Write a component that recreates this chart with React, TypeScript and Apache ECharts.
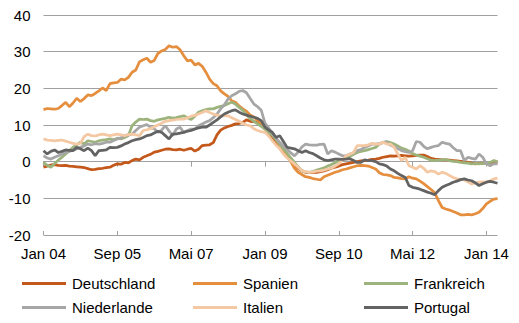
import React, { useEffect, useRef } from "react";
import * as echarts from "echarts";

const monthNames = ["Jan", "Feb", "Mrz", "Apr", "Mai", "Jun", "Jul", "Aug", "Sep", "Okt", "Nov", "Dez"];
const startYear = 2004;
const monthCount = 124;
const categories: string[] = [];
for (let i = 0; i < monthCount; i++) {
  const y = startYear + Math.floor(i / 12);
  categories.push(monthNames[i % 12] + " " + String(y % 100).padStart(2, "0"));
}

const seriesNames = ["Deutschland", "Spanien", "Frankreich", "Niederlande", "Italien", "Portugal"];
const seriesColors = ["#C4581A", "#E58E3E", "#9DB37C", "#A6A6A6", "#F4C8A2", "#636363"];

const deutschland = [
  -1.5, -1.2, -0.9, -0.8, -1.0, -1.1, -1.0, -1.2, -1.3, -1.4, -1.5, -1.6,
  -1.9, -2.2, -2.1, -1.9, -1.8, -1.6, -1.5, -1.0, -0.6, -0.7, -0.2, -0.3,
  0.3, 0.7, 0.5, 1.2, 1.6, 2.0, 2.6, 2.8, 3.1, 3.4, 3.5, 3.3,
  3.2, 3.4, 3.1, 3.4, 3.6, 2.9, 3.4, 4.4, 4.5, 4.6, 5.2, 7.3,
  8.6, 9.2, 9.6, 9.9, 10.3, 10.4, 10.7, 11.4, 11.0, 10.9, 10.7, 10.0,
  9.0, 7.8, 6.5, 5.4, 4.0, 3.0, 1.8, 0.5, -1.1, -1.8, -2.5, -2.9,
  -3.0, -2.9, -2.9, -2.7, -2.5, -2.2, -1.8, -1.5, -1.2, -0.8, -0.6, -0.4,
  -0.2, 0.0, 0.2, 0.3, 0.4, 0.6, 0.7, 0.9, 1.2, 1.4, 1.6, 1.5,
  1.6, 1.7, 1.6, 1.5, 1.6, 1.7, 1.8, 1.8, 1.4, 0.9, 0.7, 0.6,
  0.5, 0.5, 0.4, 0.3, 0.2, 0.1, 0.0, -0.2, -0.4, -0.6, -0.5, -0.5,
  -0.5, -0.4, -0.2, -0.3,
];

const spanien = [
  14.2, 14.5, 14.4, 14.3, 14.5, 15.3, 16.2, 15.0, 16.0, 17.3, 16.4, 17.2,
  18.2, 18.0, 18.6, 19.3, 20.1, 19.4, 21.3, 21.5, 21.6, 22.5, 22.3, 23.0,
  24.4, 25.0, 27.2, 27.8, 28.2, 27.1, 27.6, 29.5, 30.2, 30.6, 31.6, 31.2,
  31.4, 30.5, 28.9, 27.5, 27.7, 26.4, 26.8, 26.0, 24.4, 22.5, 21.3, 20.7,
  19.3, 18.5, 17.8, 16.6, 16.2, 15.2, 14.4, 13.8, 12.7, 12.2, 11.3, 10.5,
  9.6, 8.5, 7.5, 6.0, 4.5, 3.0, 1.5, 0.0, -1.8, -2.9, -3.5, -4.1,
  -4.3, -4.6, -4.8, -5.0, -4.1, -3.7, -3.3, -2.9, -2.6, -2.2, -2.0, -1.7,
  -1.4, -1.1, -1.0, -1.1, -1.2, -1.6, -2.0, -3.0, -3.5, -3.6, -3.8, -4.3,
  -4.4, -4.6, -4.7, -4.1, -4.5, -4.7, -5.3, -6.0, -6.8, -7.6, -8.5, -10.6,
  -12.5, -12.9, -13.2, -13.6, -14.0, -14.5, -14.5, -14.4, -14.5, -14.2, -13.8, -12.8,
  -11.5, -10.8, -10.2, -10.1,
];

const frankreich = [
  -0.2, -1.0, -1.5, -0.5, 0.4, 1.2, 2.1, 3.0, 3.9, 4.6, 5.3, 4.8,
  5.7, 5.5, 5.3, 5.7, 5.9, 6.0, 6.2, 6.0, 6.4, 6.2, 6.6, 7.1,
  9.8, 10.8, 11.6, 11.5, 11.6, 11.2, 11.0, 11.4, 11.6, 11.8, 12.1, 11.9,
  12.0, 12.3, 12.5, 12.0, 11.5, 12.4, 13.5, 13.9, 14.2, 14.4, 14.4, 14.8,
  15.1, 15.3, 15.8, 16.2, 15.7, 14.8, 14.0, 12.8, 11.8, 11.0, 10.3, 9.6,
  8.9, 8.0, 7.2, 6.0, 4.8, 3.5, 2.3, 1.0, -0.2, -1.4, -2.5, -2.8,
  -2.9, -2.7, -2.3, -2.0, -1.7, -1.2, -0.8, -0.3, 0.3, 0.6, 1.0, 1.4,
  2.0, 2.5, 2.8, 3.0, 3.3, 3.6, 3.9, 4.8, 5.2, 5.5, 5.2, 4.8,
  4.3, 3.7, 3.4, 2.9, 2.2, 1.8, 1.5, 1.2, 0.8, 0.4, 0.3, 0.4,
  0.5, 0.6, 0.3, 0.1, 0.0, -0.2, -0.3, -0.4, -0.6, -0.5, -0.6, -0.5,
  -0.5, -0.2, 0.3, 0.0,
];

const niederlande = [
  1.6, 1.0, 0.7, 1.2, 1.6, 2.0, 2.5, 2.8, 3.2, 3.5, 3.9, 4.3,
  4.8, 4.6, 4.9, 4.8, 5.0, 5.3, 5.3, 5.8, 6.2, 6.5, 7.1, 7.3,
  7.5, 8.5, 9.4, 9.8, 10.1, 9.4, 9.0, 8.0, 8.6, 9.8, 8.4, 7.1,
  8.9, 9.4, 8.0, 8.5, 8.9, 8.9, 9.8, 10.3, 10.8, 11.2, 12.0, 13.0,
  14.4, 15.5, 17.1, 18.0, 18.5, 19.2, 19.4, 18.8, 17.2, 15.7, 15.0, 14.0,
  10.5, 9.2, 7.8, 6.4, 5.3, 4.2, 3.3, 2.4, 1.6, 2.6, 4.0, 4.8,
  4.6, 4.5, 4.5, 4.7, 4.8, 2.1, 3.0, 2.6, 2.1, 1.6, 1.6, 2.1,
  2.4, 3.0, 3.3, 3.9, 4.3, 4.8, 4.8, 4.9, 5.3, 5.3, 4.5, 4.1,
  3.6, 3.0, 2.7, 2.5, 3.0, 5.5, 5.3, 4.2, 3.5, 3.9, 4.2, 4.4,
  5.3, 5.0, 4.8, 3.8, 3.0, 3.0, 0.3, 1.2, 0.9, 0.7, 2.1, 1.2,
  -0.6, -1.1, -0.6, -0.6,
];

const italien = [
  6.2, 5.9, 5.8, 5.7, 5.8, 5.9, 5.6, 5.3, 5.0, 4.8, 5.0, 6.8,
  7.5, 7.1, 7.0, 7.3, 7.5, 7.3, 7.1, 7.3, 7.5, 7.3, 7.1, 7.4,
  7.5, 7.3, 7.1, 8.5, 8.7, 9.0, 9.5, 10.0, 10.5, 11.0, 11.2, 11.3,
  11.5, 11.6, 11.6, 12.0, 12.4, 12.6, 13.0, 13.4, 13.9, 13.4, 13.0, 12.7,
  12.5, 12.5, 12.5, 12.0, 11.5, 11.0, 10.5, 10.0, 9.8, 9.0, 8.5, 8.2,
  8.0, 7.0, 5.7, 4.5, 3.5, 2.1, 1.0, 0.2, -0.6, -1.5, -2.5, -2.7,
  -2.9, -2.8, -2.6, -2.5, -2.3, -2.0, -1.8, -1.2, -0.6, 0.5, 1.6, 2.0,
  2.5, 4.4, 4.4, 4.4, 4.6, 5.0, 4.8, 4.8, 5.3, 4.8, 4.8, 3.9,
  2.1, 0.3, 1.2, -1.1, -1.5, -2.0, -1.1, -1.8, -2.9, -2.5, -2.7, -3.4,
  -2.9, -3.2, -3.8, -4.3, -4.7, -4.8, -5.0, -5.5, -6.1, -5.8, -5.6, -5.5,
  -5.6, -5.2, -4.7, -4.5,
];

const portugal = [
  3.0, 2.1, 2.8, 3.2, 2.5, 2.8, 3.2, 3.1, 3.0, 3.9, 3.5, 3.0,
  3.7, 3.0, 1.6, 3.0, 3.1, 3.2, 3.9, 3.8, 3.9, 4.3, 4.8, 5.2,
  5.7, 6.0, 6.2, 6.6, 7.1, 7.3, 7.8, 8.3, 8.0, 7.1, 6.2, 7.5,
  7.6, 7.8, 8.0, 8.3, 8.5, 8.9, 9.2, 9.4, 9.4, 10.0, 10.7, 11.4,
  12.2, 13.0, 13.5, 13.9, 14.1, 13.5, 13.0, 12.7, 12.4, 12.1, 11.8, 11.2,
  9.4, 8.7, 8.0, 6.6, 7.1, 5.5, 3.9, 3.7, 3.5, 3.0, 2.5, 3.0,
  2.5, 2.2, 1.6, 1.0, 0.5, 0.3, 0.5, 0.7, 0.7, 0.6, 0.7, 0.8,
  0.3, -0.2, -0.2, 0.5, 0.3, 0.3, 0.0, -0.6, -0.8, -1.2, -2.0, -2.5,
  -3.2, -3.8, -4.3, -6.5, -7.0, -7.2, -7.5, -7.9, -8.3, -8.6, -9.0, -7.9,
  -7.0, -6.5, -6.1, -5.6, -5.3, -4.9, -4.7, -5.0, -5.2, -5.8, -6.5, -6.0,
  -5.6, -5.4, -5.6, -5.9,
];

const seriesData = [deutschland, spanien, frankreich, niederlande, italien, portugal];

const yMin = -20;
const yMax = 40;
const yStep = 10;

const legendPos = [
  { left: 22, top: 276 },
  { left: 193, top: 276 },
  { left: 364, top: 276 },
  { left: 22, top: 300 },
  { left: 193, top: 300 },
  { left: 364, top: 300 },
];

const FONT = "'Liberation Sans', Arial, sans-serif";

export default function App() {
  const ref = useRef<HTMLDivElement>(null);
  useEffect(() => {
    if (!ref.current) return;
    const chart = echarts.init(ref.current, undefined, { renderer: "svg" });
    const baseX = {
      type: "category",
      data: categories,
      boundaryGap: false,
      gridIndex: 0,
    };
    chart.setOption({
      animation: false,
      backgroundColor: "#ffffff",
      textStyle: { fontFamily: FONT },
      grid: { left: 43.5, right: 21.5, top: 15, bottom: 88, containLabel: false },
      xAxis: [
        {
          ...baseX,
          position: "bottom",
          axisLine: { show: false, onZero: false },
          axisTick: { show: false },
          splitLine: { show: false },
          axisLabel: {
            interval: 19,
            margin: 11,
            color: "#000",
            fontSize: 15,
            fontFamily: FONT,
          },
        },
        {
          ...baseX,
          position: "bottom",
          axisLine: { show: true, onZero: true, lineStyle: { color: "#A0A0A0", width: 1 } },
          axisTick: { show: true, interval: 19, length: 5, lineStyle: { color: "#A0A0A0" } },
          axisLabel: { show: false },
          splitLine: { show: false },
        },
        {
          ...baseX,
          position: "bottom",
          axisLine: { show: false, onZero: true },
          axisTick: { show: true, inside: true, interval: 19, length: 4, lineStyle: { color: "#A0A0A0" } },
          axisLabel: { show: false },
          splitLine: { show: false },
        },
      ],
      yAxis: {
        type: "value",
        min: yMin,
        max: yMax,
        interval: yStep,
        axisLine: { show: false },
        axisTick: { show: false },
        axisLabel: { color: "#000", fontSize: 15, margin: 13, fontFamily: FONT },
        splitLine: { lineStyle: { color: "#A0A0A0", width: 1 } },
      },
      legend: seriesNames.map((name, i) => ({
        data: [name],
        left: legendPos[i].left,
        top: legendPos[i].top,
        padding: 0,
        icon: "rect",
        itemWidth: 44,
        itemHeight: 3,
        itemGap: 0,
        selectedMode: false,
        textStyle: { color: "#000", fontSize: 15, fontFamily: FONT, padding: [0, 0, 0, 1] },
      })),
      series: seriesNames.map((name, i) => ({
        name,
        type: "line",
        xAxisIndex: 0,
        data: seriesData[i],
        showSymbol: false,
        symbol: "none",
        lineStyle: { color: seriesColors[i], width: 2.75 },
        itemStyle: { color: seriesColors[i] },
        emphasis: { disabled: true },
      })),
    });
    return () => chart.dispose();
  }, []);
  return (
    <div
      ref={ref}
      style={{ position: "fixed", left: 0, top: 0, width: 519, height: 323, background: "#fff" }}
    />
  );
}
